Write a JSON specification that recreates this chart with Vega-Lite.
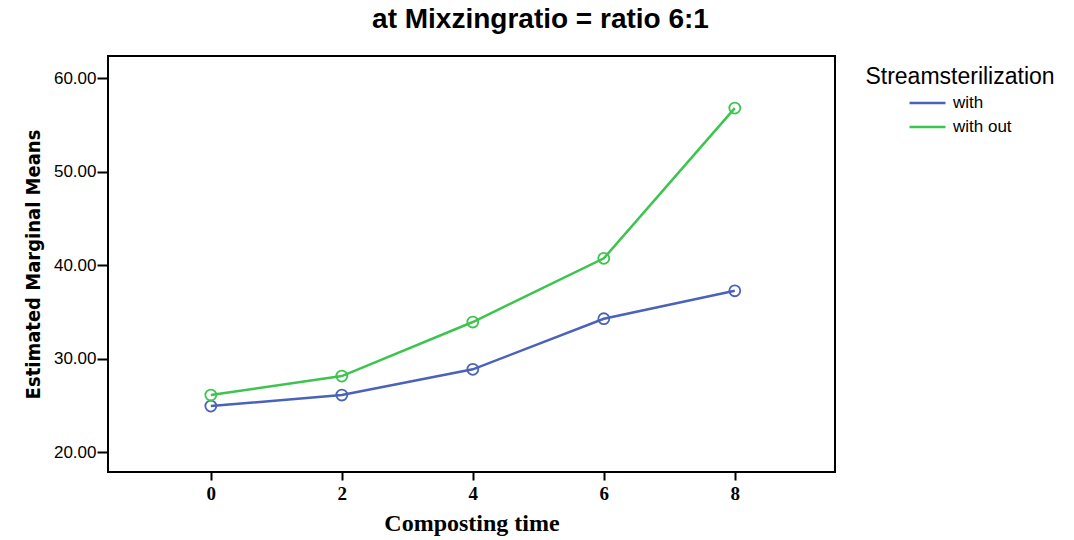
{
  "$schema": "https://vega.github.io/schema/vega-lite/v6.json",
  "width": 727,
  "height": 416,
  "autosize": {"type": "none"},
  "padding": {"left": 108, "top": 56, "right": 239, "bottom": 68},
  "background": "white",
  "title": {
    "text": "at Mixzingratio = ratio 6:1",
    "font": "Liberation Sans",
    "fontSize": 28,
    "fontWeight": "bold",
    "color": "#000000",
    "anchor": "middle",
    "dx": 69,
    "offset": 22
  },
  "config": {
    "view": {"stroke": "#000000", "strokeWidth": 2},
    "axis": {"grid": false, "domain": false, "tickColor": "#000000", "tickWidth": 2, "labelColor": "#000000", "titleColor": "#000000"}
  },
  "data": {
    "values": [
      {"time": 0, "sterilization": "with", "mean": 24.95},
      {"time": 2, "sterilization": "with", "mean": 26.13},
      {"time": 4, "sterilization": "with", "mean": 28.88},
      {"time": 6, "sterilization": "with", "mean": 34.29},
      {"time": 8, "sterilization": "with", "mean": 37.28},
      {"time": 0, "sterilization": "with out", "mean": 26.13},
      {"time": 2, "sterilization": "with out", "mean": 28.16},
      {"time": 4, "sterilization": "with out", "mean": 33.94},
      {"time": 6, "sterilization": "with out", "mean": 40.75},
      {"time": 8, "sterilization": "with out", "mean": 56.82}
    ]
  },
  "encoding": {
    "x": {
      "field": "time", "type": "quantitative",
      "scale": {"domain": [-1.57, 9.53], "nice": false, "zero": false},
      "axis": {
        "values": [0, 2, 4, 6, 8], "format": "d",
        "title": "Composting time",
        "titleFont": "Liberation Serif", "titleFontSize": 24, "titleFontWeight": "bold", "titlePadding": 8,
        "labelFont": "Liberation Serif", "labelFontSize": 19, "labelFontWeight": "bold",
        "tickSize": 8, "labelPadding": 4
      }
    },
    "y": {
      "field": "mean", "type": "quantitative",
      "scale": {"domain": [17.9, 62.39], "nice": false, "zero": false},
      "axis": {
        "values": [20, 30, 40, 50, 60], "format": ".2f",
        "title": "Estimated Marginal Means",
        "titleFont": "DejaVu Sans Condensed", "titleFontSize": 20, "titleFontWeight": "bold", "titlePadding": 10,
        "labelFont": "Liberation Sans", "labelFontSize": 17,
        "tickSize": 11, "labelPadding": 1
      }
    },
    "color": {
      "field": "sterilization", "type": "nominal",
      "scale": {"domain": ["with", "with out"], "range": ["#4a62b8", "#3dc44f"]},
      "legend": {
        "title": "Streamsterilization",
        "orient": "none", "legendX": 757, "legendY": 10,
        "titleFont": "Liberation Sans", "titleFontSize": 23, "titleFontWeight": "normal", "titleColor": "#000000",
        "titleAnchor": "middle", "titlePadding": 2, "titleLimit": 400,
        "labelFont": "Liberation Sans", "labelFontSize": 17, "labelColor": "#000000",
        "symbolType": "stroke", "symbolSize": 1296, "symbolStrokeWidth": 2.5,
        "rowPadding": 0, "clipHeight": 24, "labelOffset": 6
      }
    }
  },
  "layer": [
    {"mark": {"type": "line", "strokeWidth": 2.5}},
    {"mark": {"type": "point", "shape": "circle", "filled": false, "size": 120, "strokeWidth": 1.8, "opacity": 1}}
  ]
}
